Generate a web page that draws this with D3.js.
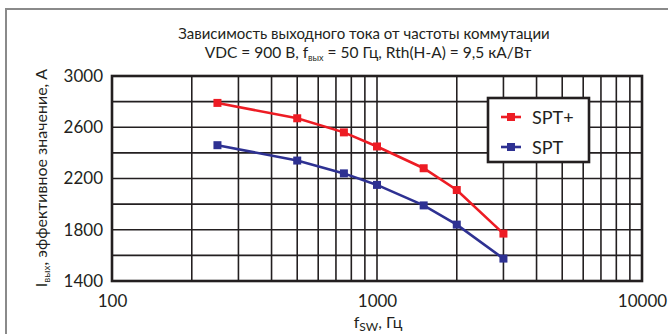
<!DOCTYPE html>
<html>
<head>
<meta charset="utf-8">
<script src="https://cdnjs.cloudflare.com/ajax/libs/d3/7.8.5/d3.min.js"></script>
<style>
  body { margin: 0; background: #fff; }
  text { font-family: Lato, "Noto Sans", sans-serif; fill: #231f20; }
</style>
</head>
<body>
<div id="chart"></div>
<script>
// data
var freq = [250, 500, 750, 1000, 1500, 2000, 3000];
var sptPlus = [2790, 2670, 2560, 2450, 2280, 2110, 1770];
var spt = [2460, 2340, 2240, 2150, 1990, 1840, 1575];
var seriesNames = ["SPT+", "SPT"];
var seriesColors = ["#ed1c24", "#2e3192"];
var xTickLabels = [100, 1000, 10000];
var yTickLabels = [1400, 1800, 2200, 2600, 3000];

var W = 668, H = 334;
var plot = {left: 112, right: 642, top: 76, bottom: 281};

var svg = d3.select("#chart").append("svg")
  .attr("width", W).attr("height", H);

// outer frame (top + left only)
svg.append("path")
  .attr("d", "M6,334 L6,9 L668,9")
  .attr("fill", "none").attr("stroke", "#8a8a8a").attr("stroke-width", 2);

var x = d3.scaleLog().domain([100, 10000]).range([plot.left, plot.right]);
var y = d3.scaleLinear().domain([1400, 3000]).range([plot.bottom, plot.top]);

// grid
var grid = svg.append("g").attr("stroke", "#231f20").attr("stroke-width", 1.6);
grid.selectAll(".v").data(x.ticks()).enter().append("line")
  .attr("x1", function(d) { return x(d); }).attr("x2", function(d) { return x(d); })
  .attr("y1", plot.top).attr("y2", plot.bottom);
grid.selectAll(".h").data(y.ticks(8)).enter().append("line")
  .attr("y1", function(d) { return y(d); }).attr("y2", function(d) { return y(d); })
  .attr("x1", plot.left).attr("x2", plot.right);

svg.append("rect")
  .attr("x", plot.left).attr("y", plot.top)
  .attr("width", plot.right - plot.left).attr("height", plot.bottom - plot.top)
  .attr("fill", "none").attr("stroke", "#231f20").attr("stroke-width", 2.6);

// axes labels
var xAxis = svg.append("g")
  .attr("transform", "translate(0," + plot.bottom + ")")
  .call(d3.axisBottom(x).tickValues(xTickLabels).tickSize(0).tickPadding(14).tickFormat(d3.format("d")));
xAxis.select(".domain").remove();
xAxis.selectAll("text").style("font-size", "17px").style("fill", "#231f20");

var yAxis = svg.append("g")
  .attr("transform", "translate(" + plot.left + ",0)")
  .call(d3.axisLeft(y).tickValues(yTickLabels).tickSize(0).tickPadding(9).tickFormat(d3.format("d")));
yAxis.select(".domain").remove();
yAxis.selectAll("text").style("font-size", "17px").style("fill", "#231f20");

// series
var series = [sptPlus, spt];
var line = d3.line()
  .x(function(d, i) { return x(freq[i]); })
  .y(function(d) { return y(d); });

series.forEach(function(vals, k) {
  svg.append("path").datum(vals)
    .attr("d", line).attr("fill", "none")
    .attr("stroke", seriesColors[k]).attr("stroke-width", 2.6);
  svg.selectAll(".m" + k).data(vals).enter().append("rect")
    .attr("x", function(d, i) { return x(freq[i]) - 4; })
    .attr("y", function(d) { return y(d) - 4; })
    .attr("width", 8).attr("height", 8)
    .attr("fill", seriesColors[k]);
});

// legend
var lg = svg.append("g");
lg.append("rect").attr("x", 488).attr("y", 98).attr("width", 101).attr("height", 64)
  .attr("fill", "#fff").attr("stroke", "#231f20").attr("stroke-width", 2.6);
seriesNames.forEach(function(name, k) {
  var cy = 117 + k * 30;
  lg.append("line").attr("x1", 501).attr("x2", 521).attr("y1", cy).attr("y2", cy)
    .attr("stroke", seriesColors[k]).attr("stroke-width", 2.6);
  lg.append("rect").attr("x", 507).attr("y", cy - 4).attr("width", 8).attr("height", 8)
    .attr("fill", seriesColors[k]);
  lg.append("text").attr("x", 532).attr("y", cy + 6.5).style("font-size", "18px").text(name);
});

// title
svg.append("text").attr("x", 364).attr("y", 39).attr("text-anchor", "middle")
  .style("font-size", "15px").text("Зависимость выходного тока от частоты коммутации");
var t2 = svg.append("text").attr("x", 368).attr("y", 58).attr("text-anchor", "middle")
  .style("font-size", "15.5px");
t2.append("tspan").text("VDC = 900 В, f");
t2.append("tspan").attr("dy", 3).style("font-size", "9px").text("вых");
t2.append("tspan").attr("dy", -3).text(" = 50 Гц, Rth(H-A) = 9,5 кА/Вт");

// x label
var xl = svg.append("text").attr("x", 378).attr("y", 328).attr("text-anchor", "middle")
  .style("font-size", "16px");
xl.append("tspan").text("f");
xl.append("tspan").attr("dy", 3).style("font-size", "12px").text("SW");
xl.append("tspan").attr("dy", -3).text(", Гц");

// y label
var yl = svg.append("text").attr("transform", "translate(47,178) rotate(-90)")
  .attr("text-anchor", "middle").style("font-size", "16px");
yl.append("tspan").text("I");
yl.append("tspan").attr("dy", 3).style("font-size", "10px").text("вых");
yl.append("tspan").attr("dy", -3).text(", эффективное значение, А");
</script>
</body>
</html>
